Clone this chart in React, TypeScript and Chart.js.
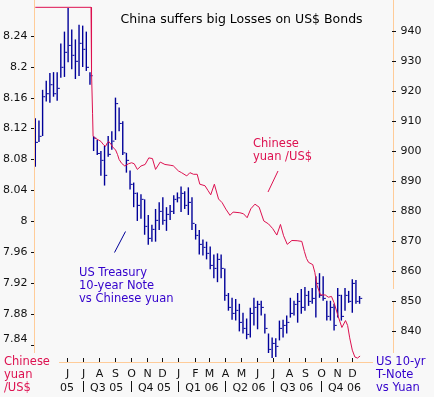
import React, { useEffect, useRef } from "react";
import { Chart, registerables } from "chart.js";

Chart.register(...registerables);

// ---- Data (x values are days since 2005-04-01) ----
const startDate = "2005-04-01";

// Weekly US 10-yr T-Note vs yuan bars (right axis)
const noteHigh = [
  911.0, 910.3, 920.5, 923.5, 926.1, 926.4, 926.4, 935.9, 939.9, 947.8,
  940.6, 937.3, 942.2, 941.9, 939.9, 926.4, 905.1, 903.8, 900.1, 901.8,
  905.1, 906.7, 917.9, 914.6, 910.0, 899.5, 893.6, 889.6, 886.3, 885.7,
  884.0, 878.8, 875.5, 880.8, 883.0, 884.7, 881.4, 882.1, 885.4, 886.3,
  888.3, 886.7, 888.0, 884.7, 875.8, 873.8, 870.6, 869.9, 868.3, 865.6,
  866.0, 865.6, 861.0, 852.8, 851.2, 850.8, 849.2, 846.2, 844.3, 847.9,
  851.2, 850.2, 850.2, 845.9, 839.3, 838.0, 837.7, 843.6, 843.9, 845.3,
  851.2, 850.2, 852.8, 854.1, 854.8, 853.5, 854.5, 858.4, 859.4, 858.4,
  850.2, 850.2, 849.2, 854.5, 852.2, 854.5, 853.5, 857.4, 857.1, 851.8,
];
const noteLow = [
  894.9, 903.1, 905.1, 916.6, 916.2, 918.2, 916.9, 924.5, 924.8, 929.7,
  927.4, 924.1, 925.1, 928.1, 926.8, 922.2, 900.1, 898.8, 891.9, 888.6,
  898.2, 900.5, 903.8, 906.7, 898.8, 892.9, 887.3, 881.4, 876.8, 877.5,
  872.2, 868.9, 869.9, 869.9, 873.8, 875.5, 873.5, 877.1, 879.1, 883.0,
  879.8, 880.8, 878.8, 873.8, 870.6, 865.6, 865.3, 864.0, 860.7, 857.7,
  856.4, 857.7, 850.2, 846.9, 843.9, 843.6, 840.0, 839.3, 837.4, 838.0,
  842.0, 840.7, 845.3, 839.3, 832.8, 831.1, 831.5, 837.0, 838.0, 839.3,
  844.6, 845.3, 842.9, 845.9, 846.9, 848.5, 849.2, 844.6, 851.2, 850.2,
  843.6, 843.6, 840.3, 844.6, 843.6, 846.9, 849.5, 846.2, 849.2, 849.2,
];
const noteClose = [
  903.0, 905.0, 918.2, 919.2, 922.2, 919.2, 921.0, 928.0, 933.0, 935.3,
  932.0, 930.0, 936.0, 934.0, 928.0, 925.2, 904.4, 899.3, 897.0, 892.0,
  899.0, 903.4, 915.9, 909.3, 899.5, 897.0, 889.0, 886.0, 882.0, 884.0,
  875.0, 871.0, 874.0, 877.0, 880.0, 877.0, 879.0, 880.0, 884.0, 884.5,
  886.0, 882.0, 883.0, 876.0, 872.0, 869.0, 868.0, 866.0, 862.0, 861.0,
  864.0, 861.0, 852.0, 848.0, 846.0, 847.0, 843.0, 841.0, 839.0, 846.0,
  848.0, 849.0, 848.0, 841.0, 834.0, 836.0, 835.0, 841.0, 842.0, 843.0,
  846.0, 849.0, 850.0, 848.0, 852.0, 850.0, 851.0, 856.0, 852.0, 851.0,
  845.0, 848.0, 842.0, 852.0, 845.0, 852.0, 850.0, 856.0, 850.0, 851.0,
];

// Chinese yuan per US$ (left axis)
const yuanDays = [
  0, 107, 108, 110, 111, 115, 121, 126, 131, 135, 138, 141, 146, 150, 154, 158,
  161, 166, 172, 179, 185, 190, 196, 203, 211, 218, 225, 231, 240, 249, 259, 265,
  275, 281, 291, 297, 304, 311, 316, 326, 332, 337, 344, 352, 359, 366, 374, 380,
  393, 400, 407, 414, 422, 430, 439, 448, 456, 464, 471, 477, 484, 493, 503, 512,
  517, 521, 525, 533, 537, 541, 548, 557, 563, 569, 574, 582, 589, 596, 600, 604,
  609, 614, 619, 624,
];
const yuanRate = [
  8.2765, 8.2765, 8.193, 8.139, 8.110, 8.1075, 8.1053, 8.1033, 8.099, 8.0969, 8.1011, 8.1033, 8.099, 8.0948, 8.0926, 8.0862,
  8.0799, 8.0748, 8.0715, 8.0744, 8.0757, 8.0744, 8.0671, 8.0715, 8.0735, 8.082, 8.0811, 8.0671, 8.0766, 8.0735, 8.0725, 8.0718,
  8.0651, 8.0629, 8.0587, 8.0629, 8.0608, 8.0608, 8.048, 8.046, 8.0396, 8.0343, 8.048, 8.0289, 8.0241, 8.0158, 8.0078, 8.012,
  8.0111, 8.0098, 8.0047, 8.0162, 8.0222, 8.0183, 8.0005, 7.9967, 7.9907, 7.9823, 7.996, 7.9814, 7.9703, 7.9753, 7.975, 7.9741,
  7.961, 7.9521, 7.947, 7.9441, 7.9342, 7.9177, 7.9049, 7.9049, 7.902, 7.903, 7.8948, 7.8769, 7.8629, 7.8718, 7.8655, 7.8495,
  7.8336, 7.8247, 7.8234, 7.826,
];

const leftTicks = [8.24, 8.2, 8.16, 8.12, 8.08, 8.04, 8, 7.96, 7.92, 7.88, 7.84];
const leftTickLabels = ["8.24", "8.2", "8.16", "8.12", "8.08", "8.04", "8", "7.96", "7.92", "7.88", "7.84"];
const rightTicks = [940, 930, 920, 910, 900, 890, 880, 870, 860, 850, 840];

const monthStarts = [
  "2005-06-01", "2005-07-01", "2005-08-01", "2005-09-01", "2005-10-01", "2005-11-01", "2005-12-01",
  "2006-01-01", "2006-02-01", "2006-03-01", "2006-04-01", "2006-05-01", "2006-06-01", "2006-07-01",
  "2006-08-01", "2006-09-01", "2006-10-01", "2006-11-01", "2006-12-01",
];
const monthLetters = ["J", "J", "A", "S", "O", "N", "D", "J", "F", "M", "A", "M", "J", "J", "A", "S", "O", "N", "D"];
const quarterBounds = ["2005-07-01", "2005-10-01", "2006-01-01", "2006-04-01", "2006-07-01", "2006-10-01", "2007-01-01"];
const quarterLabels = ["Q3 05", "Q4 05", "Q1 06", "Q2 06", "Q3 06", "Q4 06"];
const firstYearLabel = "05";

const title = "China suffers big Losses on US$ Bonds";
const yuanNote = ["Chinese", "yuan /US$"];
const bondNote = ["US Treasury", "10-year Note", "vs Chinese yuan"];
const leftAxisTitle = ["Chinese", "yuan", "/US$"];
const rightAxisTitle = ["US 10-yr", "T-Note", "vs Yuan"];

// ---- helpers ----
const dayOf = (s: string) =>
  Math.round((Date.parse(s + "T00:00:00Z") - Date.parse(startDate + "T00:00:00Z")) / 86400000);

const RED = "#DD1150";
const NAVY = "#000099";
const PURPLE = "#3300CC";
const ORANGE = "#FFCC99";
const BG = "#F8F8F8";
const FONT = "'DejaVu Sans', Verdana, sans-serif";

const decorPlugin = {
  id: "decor",
  beforeDraw(chart: any) {
    const ctx = chart.ctx;
    ctx.save();
    ctx.fillStyle = BG;
    ctx.fillRect(0, 0, chart.width, chart.height);
    ctx.restore();
  },
  afterDraw(chart: any) {
    const ctx: CanvasRenderingContext2D = chart.ctx;
    const xs = chart.scales.x;
    const yL = chart.scales.yL;
    const yR = chart.scales.yR;
    ctx.save();

    // axis lines
    ctx.strokeStyle = ORANGE;
    ctx.lineWidth = 1;
    ctx.beginPath();
    ctx.moveTo(34.5, 0);
    ctx.lineTo(34.5, 353);
    ctx.moveTo(393.5, 0);
    ctx.lineTo(393.5, 289);
    ctx.moveTo(393.5, 302);
    ctx.lineTo(393.5, 353);
    ctx.moveTo(59, 362.5);
    ctx.lineTo(373, 362.5);
    ctx.stroke();

    // left ticks + labels
    ctx.fillStyle = "#111";
    ctx.font = `11px ${FONT}`;
    ctx.textAlign = "right";
    ctx.textBaseline = "middle";
    leftTicks.forEach((v, i) => {
      const py = Math.round(yL.getPixelForValue(v));
      ctx.fillRect(31, py, 3, 1);
      const shift = i === leftTicks.length - 1 ? -6 : 0;
      ctx.fillText(leftTickLabels[i], 27.5, py + 0.5 + shift);
    });

    // right ticks + labels
    ctx.textAlign = "left";
    rightTicks.forEach((v) => {
      const py = Math.round(yR.getPixelForValue(v));
      ctx.fillRect(392, py, 4, 1);
      ctx.fillText(String(v), 400.5, py + 0.5);
    });

    // month ticks + letters
    ctx.textAlign = "center";
    ctx.textBaseline = "alphabetic";
    monthStarts.forEach((m, i) => {
      const px = Math.round(xs.getPixelForValue(dayOf(m)));
      ctx.fillRect(px, 358, 1, 4);
      ctx.fillText(monthLetters[i], px + 0.5, 376.5);
    });

    // quarter row
    const qb = quarterBounds.map((d) => xs.getPixelForValue(dayOf(d)));
    ctx.fillText(firstYearLabel, xs.getPixelForValue(dayOf(monthStarts[0])), 391);
    quarterLabels.forEach((q, i) => {
      ctx.fillText(q, (qb[i] + qb[i + 1]) / 2, 391);
    });
    qb.slice(0, 6).forEach((px) => {
      ctx.fillRect(Math.round(px), 381, 1, 11);
    });

    // title
    ctx.textAlign = "left";
    ctx.fillStyle = "#000";
    ctx.font = `12.5px ${FONT}`;
    ctx.fillText(title, 120.5, 23);

    // annotations
    ctx.font = `11.5px ${FONT}`;
    ctx.fillStyle = RED;
    yuanNote.forEach((t, i) => ctx.fillText(t, 253, 147 + i * 13));
    leftAxisTitle.forEach((t, i) => ctx.fillText(t, 4, 365 + i * 13));
    ctx.fillStyle = PURPLE;
    bondNote.forEach((t, i) => ctx.fillText(t, 79, 275.5 + i * 13));
    rightAxisTitle.forEach((t, i) => ctx.fillText(t, 376, 365 + i * 13));

    // pointer lines
    ctx.lineWidth = 1;
    ctx.strokeStyle = RED;
    ctx.beginPath();
    ctx.moveTo(268, 192);
    ctx.lineTo(278, 171);
    ctx.stroke();
    ctx.strokeStyle = NAVY;
    ctx.beginPath();
    ctx.moveTo(114.5, 252.5);
    ctx.lineTo(125.5, 231.5);
    ctx.stroke();

    ctx.restore();
  },
};

export default function App() {
  const ref = useRef<HTMLCanvasElement | null>(null);

  useEffect(() => {
    if (!ref.current) return;
    const barDays = noteHigh.map((_, i) => i * 7);
    const bars = barDays.map((d, i) => ({ x: d, y: [noteLow[i], noteHigh[i]] }));
    const closes = barDays.map((d, i) => ({ x: d + 3.2, y: noteClose[i] }));
    const yuan = yuanDays.map((d, i) => ({ x: d, y: yuanRate[i] }));

    const chart = new Chart(ref.current, {
      type: "line",
      data: {
        datasets: [
          {
            type: "line",
            label: "Chinese yuan /US$",
            data: yuan as any,
            yAxisID: "yL",
            xAxisID: "x",
            borderColor: RED,
            borderWidth: 1,
            pointRadius: 0,
            tension: 0,
            fill: false,
            order: 0,
          },
          {
            type: "line",
            label: "close",
            data: closes as any,
            yAxisID: "yR",
            xAxisID: "x",
            showLine: false,
            pointStyle: "line",
            pointRadius: 1,
            pointBorderWidth: 1,
            pointBorderColor: NAVY,
            pointBackgroundColor: NAVY,
            order: 1,
          },
          {
            type: "bar",
            label: "US 10-yr T-Note vs Yuan",
            data: bars as any,
            yAxisID: "yR",
            xAxisID: "x",
            backgroundColor: NAVY,
            borderWidth: 0,
            barThickness: 1.4,
            inflateAmount: 0,
            order: 2,
          } as any,
        ],
      },
      options: {
        responsive: false,
        animation: false,
        events: [],
        layout: { padding: { left: 35, right: 41, top: 0, bottom: 35 } },
        plugins: { legend: { display: false }, tooltip: { enabled: false } },
        scales: {
          x: { type: "linear", display: false, min: -0.6, max: 687.2, offset: false },
          yL: { type: "linear", display: false, position: "left", min: 7.8183, max: 8.2795 },
          yR: { type: "linear", display: false, position: "right", min: 829.8, max: 948.77 },
        },
      },
      plugins: [decorPlugin],
    });
    return () => chart.destroy();
  }, []);

  return (
    <div style={{ position: "fixed", left: 0, top: 0, width: 434, height: 397, background: BG }}>
      <canvas ref={ref} width={434} height={397} style={{ display: "block" }} />
    </div>
  );
}
